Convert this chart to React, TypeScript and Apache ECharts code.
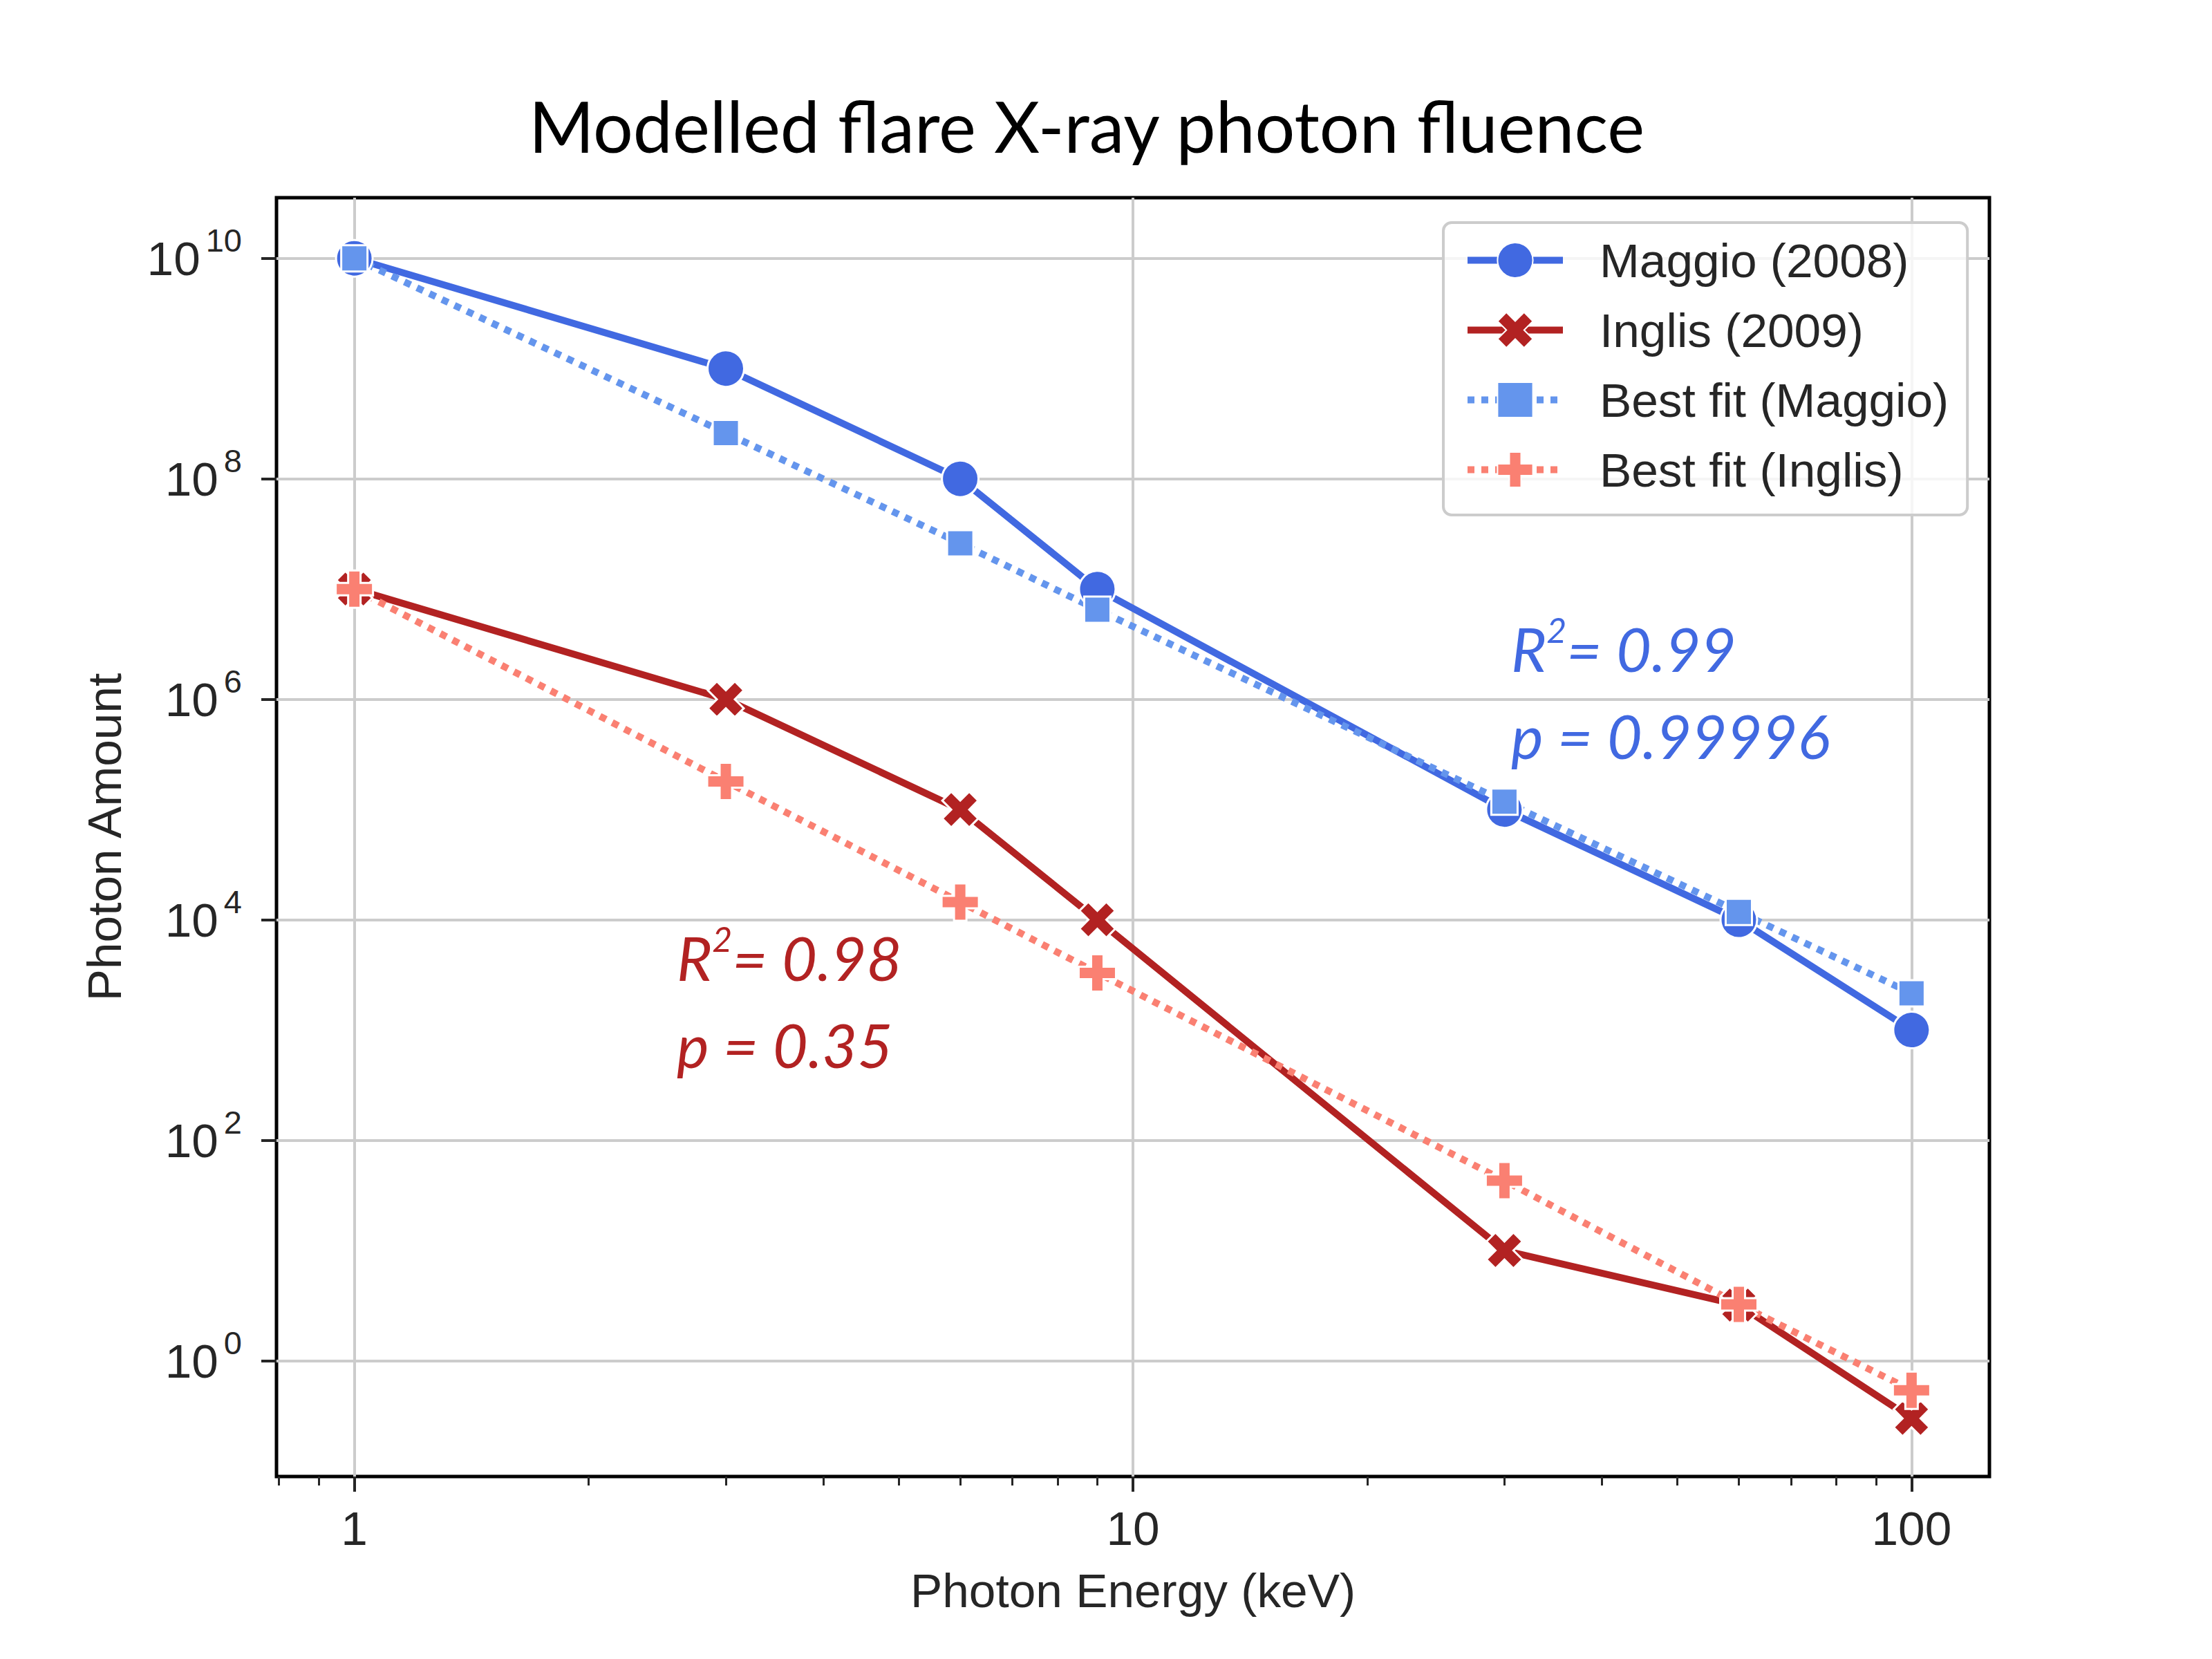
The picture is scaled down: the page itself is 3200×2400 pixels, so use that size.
import React, { useEffect, useRef } from 'react';
import * as echarts from 'echarts';

// ---- data ----
const energies = [1, 3, 6, 9, 30, 60, 100];
const maggio = [1e10, 1e9, 1e8, 1e7, 1e5, 1e4, 1e3];
const inglis = [1e7, 1e6, 1e5, 1e4, 10, 3.2, 0.3];
const fitMaggio = [1e10, 2.6e8, 2.6e7, 6.5e6, 1.18e5, 1.18e4, 2.15e3];
const fitInglis = [1e7, 1.8e5, 1.45e4, 3.3e3, 43, 3.25, 0.54];

const seriesNames = ['Maggio (2008)', 'Inglis (2009)', 'Best fit (Maggio)', 'Best fit (Inglis)'];
const xMajorTicks = [1, 10, 100];
const xMinorTicks = [0.8, 0.9, 2, 3, 4, 5, 6, 7, 8, 9, 20, 30, 40, 50, 60, 70, 80, 90];
const yTickExponents = [0, 2, 4, 6, 8, 10];
const xLogRange = [-0.1, 2.1];
const yLogRange = [-1.05, 10.55];

const titleText = 'Modelled flare X-ray photon fluence';
const xName = 'Photon Energy (keV)';
const yName = 'Photon Amount';
const maggioStats = ['2', '= 0.99', 'p = 0.99996'];
const inglisStats = ['2', '= 0.98', 'p = 0.35'];

const ARIAL = "'Liberation Sans', Arial, Helvetica, sans-serif";
const CAL = "Lato, 'Open Sans', sans-serif";
const INK = '#262626';

const toPts = (vals: number[]) => energies.map((e, i) => [Math.log10(e), Math.log10(vals[i])]);

const X_PATH = 'path://M1,0L2,1L3,0L4,1L3,2L4,3L3,4L2,3L1,4L0,3L1,2L0,1Z';
const PLUS_PATH = 'path://M2,0L4,0L4,2L6,2L6,4L4,4L4,6L2,6L2,4L0,4L0,2L2,2Z';

function statText(x: number, y1: number, y2: number, color: string, s: string[]) {
  return [
    {
      type: 'text',
      x,
      y: y1,
      style: {
        text: `{r|R}{s|${s[0]}}{r|${s[1]}}`,
        align: 'left',
        verticalAlign: 'middle',
        fill: color,
        rich: {
          r: { fontFamily: CAL, fontStyle: 'italic', fontSize: 88, lineHeight: 88, verticalAlign: 'bottom', fill: color },
          s: { fontFamily: CAL, fontStyle: 'italic', fontSize: 50, lineHeight: 50, padding: [0, 0, 55, 0], fill: color },
        },
      },
    },
    {
      type: 'text',
      x,
      y: y2,
      style: {
        text: s[2],
        align: 'left',
        verticalAlign: 'middle',
        fill: color,
        font: `italic 88px ${CAL}`,
      },
    },
  ];
}

export default function App() {
  const ref = useRef<HTMLDivElement>(null);
  useEffect(() => {
    const chart = echarts.init(ref.current!, null, { renderer: 'svg' });
    const tickLine = { color: INK, width: 4 };
    const LW = 10;
    const DOT = [10, 10];
    const option: any = {
      animation: false,
      backgroundColor: '#ffffff',
      grid: {
        left: 400,
        top: 286,
        width: 2478,
        height: 1850,
        show: true,
        borderColor: '#000000',
        borderWidth: 5,
        backgroundColor: 'transparent',
      },
      xAxis: [
        {
          type: 'value',
          min: xLogRange[0],
          max: xLogRange[1],
          position: 'bottom',
          axisLine: { show: false, onZero: false },
          axisTick: { show: true, customValues: xMajorTicks.map(Math.log10), length: 22, lineStyle: tickLine },
          axisLabel: {
            customValues: xMajorTicks.map(Math.log10),
            formatter: (v: number) => String(Math.round(Math.pow(10, v))),
            margin: 40,
            fontSize: 69.4,
            fontFamily: ARIAL,
            color: INK,
          },
          splitLine: { show: true, lineStyle: { color: '#cccccc', width: 4 } },
          name: xName,
          nameLocation: 'middle',
          nameGap: 130,
          nameTextStyle: { fontSize: 69.4, fontFamily: ARIAL, color: INK },
        },
        {
          type: 'value',
          min: xLogRange[0],
          max: xLogRange[1],
          position: 'bottom',
          axisLine: { show: false, onZero: false },
          axisTick: { show: true, customValues: xMinorTicks.map(Math.log10), length: 13, lineStyle: { color: INK, width: 3 } },
          axisLabel: { show: false },
          splitLine: { show: false },
        },
      ],
      yAxis: {
        type: 'value',
        min: yLogRange[0],
        max: yLogRange[1],
        axisLine: { show: false, onZero: false },
        axisTick: { show: true, customValues: yTickExponents, length: 22, lineStyle: tickLine },
        axisLabel: {
          customValues: yTickExponents,
          formatter: (v: number) => `{b|10}{s|${v}}`,
          margin: 50,
          color: INK,
          rich: {
            b: { fontSize: 69.4, lineHeight: 70, fontFamily: ARIAL, color: INK, verticalAlign: 'bottom' },
            s: { fontSize: 47, lineHeight: 47, fontFamily: ARIAL, color: INK, padding: [0, 0, 53, 8] },
          },
        },
        splitLine: { show: true, lineStyle: { color: '#cccccc', width: 4 } },
        name: yName,
        nameLocation: 'middle',
        nameGap: 215,
        nameRotate: 90,
        nameTextStyle: { fontSize: 69.4, fontFamily: ARIAL, color: INK },
      },
      legend: {
        orient: 'vertical',
        left: 2088,
        top: 322,
        padding: [20, 27, 31, 30],
        itemWidth: 138,
        itemHeight: 64,
        itemGap: 32,
        backgroundColor: 'rgba(255,255,255,0.8)',
        borderColor: '#cccccc',
        borderWidth: 4,
        borderRadius: 12,
        selectedMode: false,
        lineStyle: { width: LW },
        textStyle: { fontSize: 69.4, fontFamily: ARIAL, color: INK, lineHeight: 64, padding: [0, 0, 0, 48] },
        data: seriesNames,
      },
      series: [
        {
          name: seriesNames[0],
          type: 'line',
          data: toPts(maggio),
          symbol: 'circle',
          symbolSize: 53,
          showAllSymbol: true,
          lineStyle: { color: '#4169e1', width: LW },
          itemStyle: { color: '#4169e1', borderColor: '#ffffff', borderWidth: 3 },
          emphasis: { disabled: true },
          silent: true,
        },
        {
          name: seriesNames[1],
          type: 'line',
          data: toPts(inglis),
          symbol: X_PATH,
          symbolSize: 52,
          showAllSymbol: true,
          lineStyle: { color: '#b22222', width: LW },
          itemStyle: { color: '#b22222', borderColor: '#ffffff', borderWidth: 3 },
          emphasis: { disabled: true },
          silent: true,
        },
        {
          name: seriesNames[2],
          type: 'line',
          data: toPts(fitMaggio),
          symbol: 'rect',
          symbolSize: 38,
          showAllSymbol: true,
          lineStyle: { color: '#6495ed', width: LW, type: DOT, cap: 'butt' },
          itemStyle: { color: '#6495ed', borderColor: '#ffffff', borderWidth: 3 },
          emphasis: { disabled: true },
          silent: true,
        },
        {
          name: seriesNames[3],
          type: 'line',
          data: toPts(fitInglis),
          symbol: PLUS_PATH,
          symbolSize: 54,
          showAllSymbol: true,
          lineStyle: { color: '#fa8072', width: LW, type: DOT, cap: 'butt' },
          itemStyle: { color: '#fa8072', borderColor: '#ffffff', borderWidth: 3 },
          emphasis: { disabled: true },
          silent: true,
        },
      ],
      graphic: [
        {
          type: 'text',
          x: 1572,
          y: 181,
          style: {
            text: titleText,
            align: 'center',
            verticalAlign: 'middle',
            fill: '#000000',
            font: `102px ${CAL}`,
          },
        },
        ...statText(2186, 938, 1064, '#4169e1', maggioStats),
        ...statText(979, 1385, 1511, '#b22222', inglisStats),
      ],
    };
    chart.setOption(option);
    return () => chart.dispose();
  }, []);
  return (
    <div
      ref={ref}
      style={{ position: 'absolute', left: 0, top: 0, width: 3200, height: 2400, background: '#ffffff' }}
    />
  );
}
